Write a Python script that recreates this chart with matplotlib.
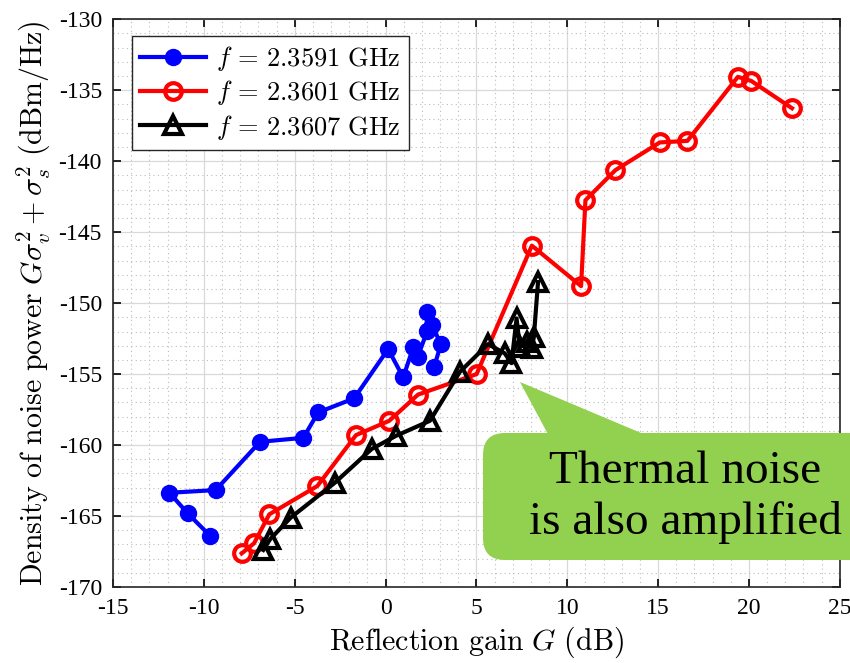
import matplotlib
matplotlib.use("Agg")
import matplotlib.pyplot as plt
from matplotlib.patches import FancyBboxPatch, Polygon
from matplotlib.ticker import MultipleLocator

plt.rcParams['font.family'] = ['Liberation Serif', 'DejaVu Serif']
plt.rcParams['mathtext.fontset'] = 'cm'
plt.rcParams['axes.unicode_minus'] = False

# f = 2.3591 GHz
g1 = [-9.66, -10.89, -11.90, -9.35, -6.91, -4.53, -3.71, -1.73, 0.14, 0.97,
      1.52, 1.76, 2.29, 2.26, 2.56, 3.04, 2.67]
p1 = [-166.39, -164.81, -163.36, -163.17, -159.77, -159.49, -157.70, -156.71,
      -153.24, -155.23, -153.12, -153.82, -151.97, -150.65, -151.55, -152.89, -154.53]

# f = 2.3601 GHz
g2 = [-7.92, -7.24, -6.40, -3.76, -1.63, 0.20, 1.79, 5.01, 8.05, 10.76,
      11.00, 12.65, 15.09, 16.61, 19.39, 20.13, 22.37]
p2 = [-167.63, -166.92, -164.88, -162.89, -159.30, -158.29, -156.44, -155.00,
      -145.95, -148.80, -142.75, -140.63, -138.68, -138.57, -134.06, -134.35, -136.27]

# f = 2.3607 GHz
g3 = [-6.73, -6.36, -5.23, -2.79, -0.77, 0.57, 2.44, 4.09, 5.64, 6.56,
      6.93, 7.21, 7.39, 7.77, 8.05, 8.16, 8.39]
p3 = [-167.39, -166.64, -165.12, -162.65, -160.28, -159.35, -158.29, -154.84,
      -152.89, -153.54, -154.23, -151.08, -153.10, -152.75, -153.17, -152.39, -148.52]

labels = [r'$f\,=\,2.3591\ \mathrm{GHz}$', r'$f\,=\,2.3601\ \mathrm{GHz}$',
          r'$f\,=\,2.3607\ \mathrm{GHz}$']

fig = plt.figure(figsize=(8.5, 6.63), dpi=100)
ax = fig.add_axes([0.133, 0.1146, 0.855, 0.8564])

ax.plot(g1, p1, color='#0000ff', lw=3, marker='o', ms=11.5, label=labels[0])
ax.plot(g2, p2, color='#ff0000', lw=3, marker='o', ms=12, mfc='none', mew=3, label=labels[1])
ax.plot(g3, p3, color='black', lw=3, marker='^', ms=13, mfc='none', mew=3, label=labels[2])

ax.set_xlim(-15, 25)
ax.set_ylim(-170, -130)
ax.xaxis.set_major_locator(MultipleLocator(5))
ax.yaxis.set_major_locator(MultipleLocator(5))
ax.xaxis.set_minor_locator(MultipleLocator(1))
ax.yaxis.set_minor_locator(MultipleLocator(1))
ax.grid(which='major', color='#d9d9d9', lw=0.9, ls='-')
ax.grid(which='minor', color='#bcbcbc', lw=0.8, ls=(0, (1, 3)))
ax.set_axisbelow(True)
ax.tick_params(which='major', direction='in', top=True, right=True, length=6, width=1.2,
               labelsize=17, pad=8)
ax.tick_params(which='minor', length=0)
for s in ax.spines.values():
    s.set_linewidth(1.2)
    s.set_color('#262626')

ax.set_xlabel(r'$\mathrm{Reflection\ gain}\ G\ \mathrm{(dB)}$', fontsize=21.5, labelpad=4)
ax.set_ylabel(r'$\mathrm{Density\ of\ noise\ power}\ G\sigma_v^2+\sigma_s^2\ \mathrm{(dBm/Hz)}$',
              fontsize=21.5, labelpad=4)

leg = ax.legend(loc='upper left', bbox_to_anchor=(0.026, 0.97), borderaxespad=0,
                fontsize=19, handlelength=2.5, labelspacing=0.2, handletextpad=0.4,
                borderpad=0.3, fancybox=False, framealpha=1)
leg.get_frame().set_edgecolor('#262626')
leg.get_frame().set_linewidth(1.0)

# callout
green = '#92d050'
tr = fig.dpi_scale_trans
box = FancyBboxPatch((4.83, 1.03), 3.9, 1.27, boxstyle='round,pad=0,rounding_size=0.22',
                     transform=tr, fc=green, ec='none', clip_on=False, zorder=5)
fig.patches.append(box)
tip = Polygon([(5.20, 2.81), (5.50, 2.25), (6.53, 2.25)], closed=True, transform=tr,
              fc=green, ec='none', clip_on=False, zorder=5)
fig.patches.append(tip)
fig.text(6.85, 1.66, 'Thermal noise\nis also amplified', transform=tr, ha='center', va='center',
         fontsize=34, linespacing=1.25, zorder=6)

fig.savefig('out.png', dpi=100)
